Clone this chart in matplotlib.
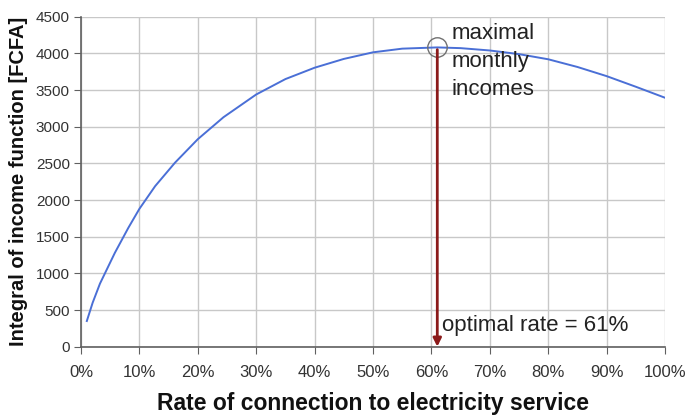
import matplotlib.pyplot as plt
from matplotlib.ticker import FuncFormatter

plt.rcParams['font.family'] = ['Liberation Sans', 'DejaVu Sans']

# values
rate = [1, 2, 3.25, 5.8, 8.1, 10, 12.7, 16.1, 20, 24.4, 30, 35, 40, 45,
        50, 55, 61, 65, 70, 75, 80, 85, 90, 95, 100]
income = [350, 600, 860, 1280, 1620, 1880, 2190, 2510, 2830, 3130, 3440,
          3650, 3805, 3925, 4015, 4065, 4082, 4072, 4040, 3990, 3920, 3815,
          3690, 3545, 3395]
opt_rate = 61
opt_income = 4082

fig = plt.figure(figsize=(6.88, 4.19), dpi=100)
ax = fig.add_axes([0.1177, 0.1726, 0.849, 0.7874])

ax.plot(rate, income, color="#4a6fd6", lw=1.4, zorder=3)

# marker for the maximum
ax.plot([opt_rate], [opt_income], marker="o", ms=14, mfc="none",
        mec="#707070", mew=1.0, zorder=4)
ax.annotate("", xy=(opt_rate, 0), xytext=(opt_rate, opt_income - 30),
            arrowprops=dict(arrowstyle="-|>", color="#8b1a1a", lw=2,
                            mutation_scale=12, shrinkA=0, shrinkB=0),
            zorder=5)

ax.text(63.4, 4410, "maximal\nmonthly\nincomes", fontsize=16, va="top",
        ha="left", color="#222222", linespacing=1.42)
ax.text(61.8, 290, "optimal rate = 61%", fontsize=16, va="center",
        ha="left", color="#222222")

ax.set_xlim(0, 100)
ax.set_ylim(0, 4500)
ax.set_xticks(range(0, 101, 10))
ax.set_yticks(range(0, 4501, 500))
ax.xaxis.set_major_formatter(FuncFormatter(lambda v, p: f"{int(v)}%"))

ax.grid(True, color="#c8c8c8", lw=1)
ax.set_axisbelow(True)
for s in ["top", "right"]:
    ax.spines[s].set_visible(False)
for s in ["left", "bottom"]:
    ax.spines[s].set_color("#606060")
    ax.spines[s].set_linewidth(1.2)

ax.tick_params(axis="x", labelsize=12, colors="#606060", labelcolor="#333333",
               length=5, pad=8)
ax.tick_params(axis="y", labelsize=11, colors="#606060", labelcolor="#333333",
               length=5, pad=3)

ax.set_xlabel("Rate of connection to electricity service", fontsize=16.5,
              fontweight="bold", color="#111111", labelpad=9)
ax.set_ylabel("Integral of income function [FCFA]", fontsize=14.5,
              fontweight="bold", color="#111111", labelpad=6)

fig.savefig("out.png", dpi=100)
